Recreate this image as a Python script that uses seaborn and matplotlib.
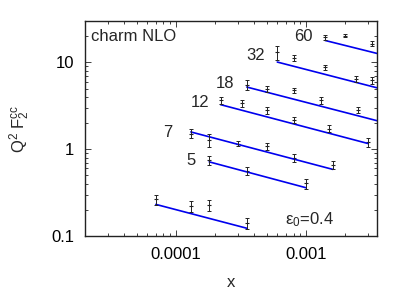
import numpy as np
import pandas as pd
import matplotlib
matplotlib.use("Agg")
import matplotlib.pyplot as plt
import seaborn as sns
from matplotlib.ticker import LogLocator, FixedLocator, FixedFormatter, NullFormatter

# data points (x, Q^2 F2cc, error)
x_low = [7.0e-5, 1.3e-4, 1.8e-4, 3.5e-4]
f_low = [0.264, 0.221, 0.227, 0.140]
e_low = [0.034, 0.034, 0.033, 0.020]

x_5 = [1.8e-4, 3.5e-4, 1.0e-3]
f_5 = [0.748, 0.563, 0.403]
e_5 = [0.085, 0.065, 0.053]

x_7 = [1.3e-4, 1.8e-4, 3.0e-4, 5.0e-4, 8.0e-4, 1.6e-3]
f_7 = [1.51, 1.29, 1.16, 1.08, 0.80, 0.655]
e_7 = [0.18, 0.22, 0.085, 0.10, 0.08, 0.068]

x_12 = [2.2e-4, 3.2e-4, 5.0e-4, 8.0e-4, 1.5e-3, 3.0e-3]
f_12 = [3.66, 3.41, 2.81, 2.15, 1.73, 1.21]
e_12 = [0.36, 0.32, 0.25, 0.17, 0.15, 0.15]

x_18 = [3.5e-4, 5.0e-4, 8.0e-4, 1.3e-3, 2.5e-3]
f_18 = [5.54, 4.99, 4.77, 3.66, 2.86]
e_18 = [0.70, 0.41, 0.32, 0.30, 0.22]

x_32 = [6.0e-4, 8.0e-4, 1.4e-3, 2.4e-3, 3.2e-3]
f_32 = [13.1, 11.3, 8.83, 6.43, 6.21]
e_32 = [2.4, 0.84, 0.56, 0.50, 0.64]

x_60 = [1.4e-3, 2.0e-3, 3.2e-3]
f_60 = [19.5, 20.4, 16.4]
e_60 = [1.44, 0.94, 1.10]

# NLO curves (straight in log-log): start and end points
line_x0 = [7.0e-5, 1.8e-4, 1.3e-4, 2.2e-4, 3.5e-4, 6.0e-4, 1.4e-3]
line_y0 = [0.231, 0.714, 1.58, 3.26, 5.20, 10.1, 17.9]
line_x1 = [3.5e-4, 1.0e-3, 1.6e-3, 3.0e-3, 3.5e-3, 3.5e-3, 3.5e-3]
line_y1 = [0.1226, 0.359, 0.585, 1.16, 2.13, 5.1, 12.7]

# Q^2 labels
q2_text = ["5", "7", "12", "18", "32", "60"]
q2_x = [1.31e-4, 8.6e-5, 1.53e-4, 2.38e-4, 4.12e-4, 9.5e-4]
q2_y = [0.734, 1.56, 3.44, 5.78, 12.0, 19.9]

sns.set_style("ticks")
plt.rcParams['font.family'] = ['Liberation Sans', 'DejaVu Sans']
plt.rcParams['mathtext.default'] = 'regular'
plt.rcParams['font.size'] = 12

pts = pd.DataFrame({
    "x": x_low + x_5 + x_7 + x_12 + x_18 + x_32 + x_60,
    "f": f_low + f_5 + f_7 + f_12 + f_18 + f_32 + f_60,
    "e": e_low + e_5 + e_7 + e_12 + e_18 + e_32 + e_60,
})
lines = pd.DataFrame({
    "series": list(range(7)) * 2,
    "x": line_x0 + line_x1,
    "y": line_y0 + line_y1,
})

fig = plt.figure(figsize=(4.17, 2.92), dpi=100)
ax = fig.add_axes([0.204, 0.192, 0.700, 0.736])

sns.lineplot(data=lines, x="x", y="y", units="series", estimator=None,
             color="#0000ee", lw=1.2, ax=ax, legend=False)
ax.errorbar(pts["x"], pts["f"], yerr=pts["e"], fmt="none", ecolor="#222222",
            elinewidth=0.7, capsize=1.5, capthick=0.7)
sns.scatterplot(data=pts, x="x", y="f", marker="_", s=8, color="#222222",
                linewidth=0.8, ax=ax, legend=False)

ax.set_xscale("log")
ax.set_yscale("log")
ax.set_xlim(2e-5, 3.5e-3)
ax.set_ylim(0.1, 30)

ax.xaxis.set_major_locator(FixedLocator([1e-4, 1e-3]))
ax.xaxis.set_major_formatter(FixedFormatter(["0.0001", "0.001"]))
ax.xaxis.set_minor_locator(LogLocator(base=10, subs=np.arange(2, 10)))
ax.xaxis.set_minor_formatter(NullFormatter())
ax.yaxis.set_major_locator(FixedLocator([0.1, 1, 10]))
ax.yaxis.set_major_formatter(FixedFormatter(["0.1", "1", "10"]))
ax.yaxis.set_minor_locator(LogLocator(base=10, subs=np.arange(2, 10)))
ax.yaxis.set_minor_formatter(NullFormatter())

ax.tick_params(which="both", direction="in", top=True, right=True, width=0.6,
               colors="#222222", labelcolor="black")
ax.tick_params(which="major", length=4.5, labelsize=12, pad=8)
ax.tick_params(which="minor", length=2.5)
for side in ["left", "right", "top", "bottom"]:
    ax.spines[side].set_visible(True)
    ax.spines[side].set_linewidth(1.0)
    ax.spines[side].set_color("#222222")

ax.set_xlabel("x", fontsize=12, labelpad=9)
ax.set_ylabel("Q$^2$ F$_2^{cc}$", fontsize=12, labelpad=14)

ax.text(0.02, 0.965, "charm NLO", transform=ax.transAxes, ha="left", va="top",
        fontsize=12)
ax.text(0.685, 0.075, "ε$_0$=0.4", transform=ax.transAxes, ha="left",
        va="center", fontsize=12)
for t, xx, yy in zip(q2_text, q2_x, q2_y):
    ax.text(xx, yy, t, ha="center", va="center", fontsize=12)

fig.savefig("out.png", dpi=100)
